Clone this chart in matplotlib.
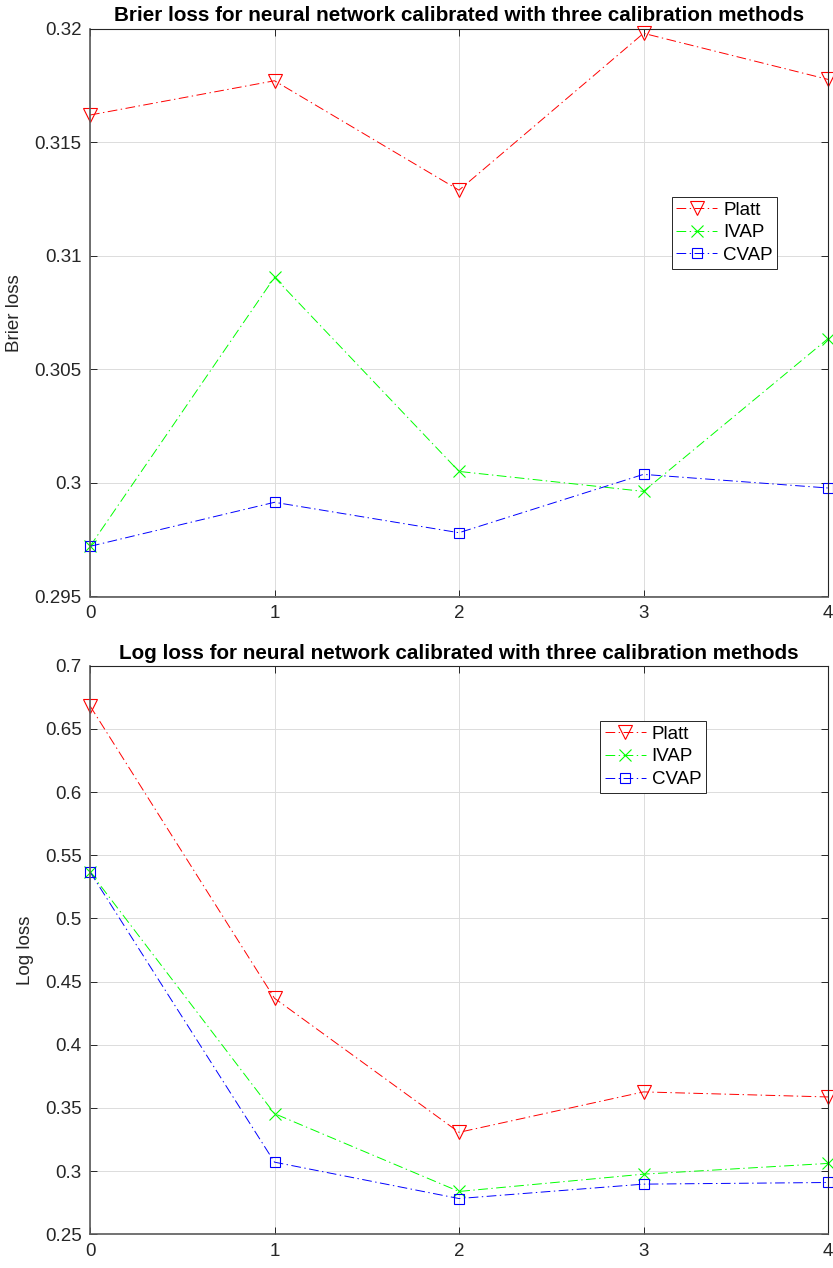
import matplotlib
matplotlib.use("Agg")
import matplotlib.pyplot as plt

x_vals = [0, 1, 2, 3, 4]

brier_platt = [0.31621, 0.31772, 0.31290, 0.31981, 0.31778]
brier_ivap = [0.29721, 0.30906, 0.30051, 0.29963, 0.30636]
brier_cvap = [0.29721, 0.29915, 0.29781, 0.30038, 0.29978]

log_platt = [0.6682, 0.4368, 0.3307, 0.3627, 0.3587]
log_ivap = [0.5368, 0.3455, 0.2839, 0.2976, 0.3061]
log_cvap = [0.5368, 0.3071, 0.2783, 0.2897, 0.2910]

series_labels = ["Platt", "IVAP", "CVAP"]
titles = ["Brier loss for neural network calibrated with three calibration methods",
          "Log loss for neural network calibrated with three calibration methods"]
ylabels = ["Brier loss", "Log loss"]
brier_yticks = [0.295, 0.30, 0.305, 0.31, 0.315, 0.32]
brier_yticklabels = ["0.295", "0.3", "0.305", "0.31", "0.315", "0.32"]
log_yticks = [0.25, 0.3, 0.35, 0.4, 0.45, 0.5, 0.55, 0.6, 0.65, 0.7]
log_yticklabels = ["0.25", "0.3", "0.35", "0.4", "0.45", "0.5", "0.55", "0.6", "0.65", "0.7"]

plt.rcParams['font.family'] = ['Liberation Sans', 'DejaVu Sans']
plt.rcParams['lines.scale_dashes'] = False

fig = plt.figure(figsize=(8.33, 12.68), dpi=100)
W, H = 833, 1268

def add_axes_px(left, top, right, bottom):
    return fig.add_axes([left / W, 1 - bottom / H, (right - left) / W, (bottom - top) / H])

ax1 = add_axes_px(90, 29, 828, 596.5)
ax2 = add_axes_px(90, 665.7, 828, 1234.3)

dash = (0, (7, 2.5, 1, 2.5))
colors = ["#ff0000", "#00ff00", "#0000ff"]
markers = ["v", "x", "s"]
msizes = [9.5, 8.5, 7]

def draw(ax, data, yticks, yticklabels, title, ylabel, legend_anchor, tpad):
    for vals, c, m, ms, lab in zip(data, colors, markers, msizes, series_labels):
        ax.plot(x_vals, vals, color=c, linestyle=dash, linewidth=0.7,
                marker=m, markersize=ms, markerfacecolor='none',
                markeredgecolor=c, markeredgewidth=0.8, label=lab, clip_on=False)
    ax.set_xlim(0, 4)
    ax.set_ylim(yticks[0], yticks[-1])
    ax.set_xticks(x_vals)
    ax.set_xticklabels([str(v) for v in x_vals])
    ax.set_yticks(yticks)
    ax.set_yticklabels(yticklabels)
    ax.grid(True, color='#dcdcdc', linewidth=0.7)
    ax.set_axisbelow(True)
    ax.tick_params(direction='in', length=5, width=0.7, colors='#262626',
                   labelsize=13.5, top=True, right=True, pad=6)
    for s in ax.spines.values():
        s.set_color('#262626')
        s.set_linewidth(0.8)
    ax.spines['left'].set_color('#5a5a5a')
    ax.spines['left'].set_linewidth(1.2)
    ax.spines['bottom'].set_color('#5a5a5a')
    ax.spines['bottom'].set_linewidth(1.2)
    ax.set_title(title, fontsize=14.9, fontweight='bold', pad=tpad)
    ax.set_ylabel(ylabel, fontsize=13.5, color='#262626', labelpad=8)
    leg = ax.legend(loc='upper left', bbox_to_anchor=legend_anchor, fontsize=13.5,
                    frameon=True, fancybox=False, framealpha=1, edgecolor='#262626',
                    handlelength=2.2, handletextpad=0.3, labelspacing=0.3,
                    borderpad=0.25, borderaxespad=0)
    leg.get_frame().set_linewidth(0.7)

draw(ax1, [brier_platt, brier_ivap, brier_cvap], brier_yticks, brier_yticklabels,
     titles[0], ylabels[0], (0.788, 0.7045), 6)
draw(ax2, [log_platt, log_ivap, log_cvap], log_yticks, log_yticklabels,
     titles[1], ylabels[1], (0.691, 0.903), 4.5)

fig.savefig("out.png", dpi=100)
